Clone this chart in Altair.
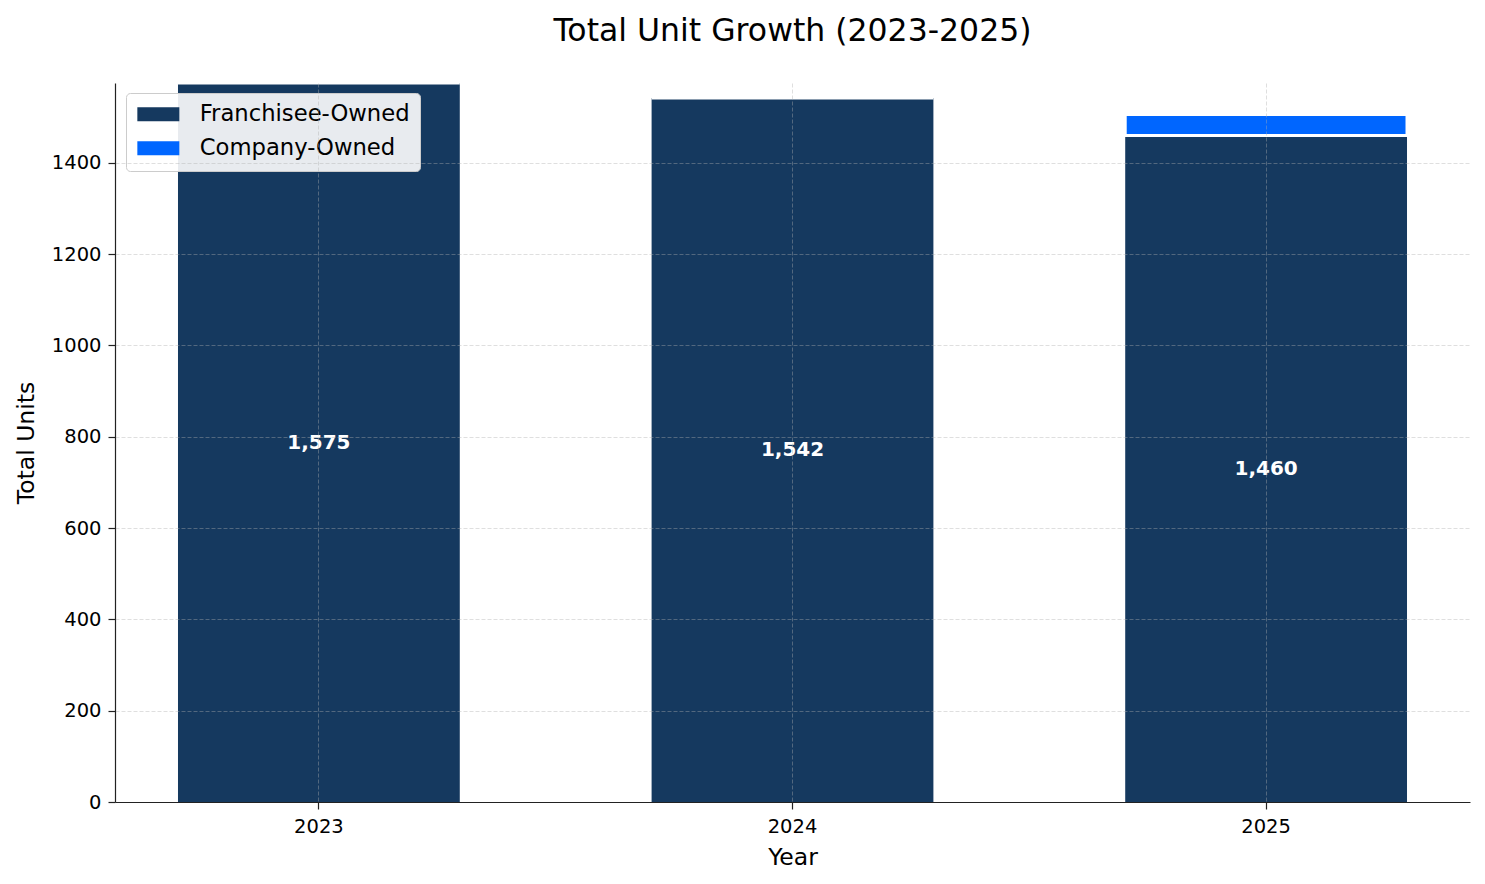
import altair as alt
import pandas as pd

# Valores
YEARS = ["2023", "2024", "2025"]
FRANCHISEE = [1575, 1542, 1460]
COMPANY = [0, 0, 46]

SEG_ORDER = ["Franchisee-Owned", "Company-Owned"]
SEG_COLORS = ["#15395f", "#0066ff"]
SEG_SCALE = alt.Scale(domain=SEG_ORDER, range=SEG_COLORS)

FONT = "DejaVu Sans"

rows = []
for y, f, c in zip(YEARS, FRANCHISEE, COMPANY):
    rows.append({"Year": y, "Segment": "Franchisee-Owned", "Units": f, "rank": 0})
    rows.append({"Year": y, "Segment": "Company-Owned", "Units": c, "rank": 1})
df = pd.DataFrame(rows)

labels = pd.DataFrame({"Year": YEARS, "Franchisee": FRANCHISEE})

x_enc = alt.X(
    "Year:N",
    title="Year",
    scale=alt.Scale(paddingInner=0.405, paddingOuter=0.133),
    axis=alt.Axis(labelAngle=0, bandPosition=0.5, labelPadding=8, titlePadding=10, zindex=1),
)

bars = (
    alt.Chart(df)
    .mark_bar()
    .encode(
        x=x_enc,
        y=alt.Y(
            "Units:Q",
            title="Total Units",
            stack="zero",
            scale=alt.Scale(domain=[0, 1575], nice=False),
            axis=alt.Axis(
                values=[0, 200, 400, 600, 800, 1000, 1200, 1400],
                format="d",
                labelPadding=7,
                titlePadding=13,
                zindex=1,
            ),
        ),
        color=alt.Color(
            "Segment:N",
            scale=SEG_SCALE,
            sort=SEG_ORDER,
            legend=alt.Legend(
                title=None,
                orient="none",
                legendX=11,
                legendY=10,
                # rectángulo 42x14 que arranca cerca del borde izquierdo del símbolo
                symbolType="M-1.43,-1H4.57V1H-1.43Z",
                symbolSize=196,
                symbolStrokeWidth=0,
                symbolOpacity=1,
                labelFontSize=22.7,
                labelFont=FONT,
                labelColor="#000000",
                labelLimit=0,
                labelOffset=41,
                rowPadding=10,
                padding=10,
                fillColor="rgba(255,255,255,0.9)",
                strokeColor="#cccccc",
                cornerRadius=4,
            ),
        ),
        order=alt.Order("rank:Q"),
        stroke=alt.condition(alt.datum.rank == 1, alt.value("white"), alt.value(None)),
        strokeWidth=alt.condition(alt.datum.rank == 1, alt.value(3), alt.value(0)),
    )
)

text = (
    alt.Chart(labels)
    .transform_calculate(mid="datum.Franchisee / 2")
    .mark_text(color="white", fontWeight="bold", fontSize=20, font=FONT, baseline="middle")
    .encode(
        x=x_enc,
        y=alt.Y("mid:Q"),
        text=alt.Text("Franchisee:Q", format=",.0f"),
    )
)

chart = (
    alt.layer(bars, text)
    .properties(
        width=1355,
        height=719,
        autosize=alt.AutoSizeParams(type="none"),
        padding={"left": 107, "top": 75, "right": 7, "bottom": 74},
        title=alt.Title(
            "Total Unit Growth (2023-2025)",
            fontSize=31.5,
            fontWeight="normal",
            font=FONT,
            color="#000000",
            anchor="middle",
            baseline="alphabetic",
            offset=9,
        ),
    )
    .configure_view(stroke=None)
    .configure_axis(
        labelFont=FONT,
        titleFont=FONT,
        labelFontSize=19.5,
        titleFontSize=23.5,
        titleFontWeight="normal",
        labelColor="#000000",
        titleColor="#000000",
        domainColor="#222222",
        domainWidth=1.2,
        tickColor="#222222",
        tickWidth=1.2,
        tickSize=7,
        grid=True,
        gridColor="#b0b0b0",
        gridOpacity=0.4,
        gridDash=[4, 2],
        gridWidth=1,
    )
)

chart.save("out.html", embed_options={"renderer": "svg", "actions": False})
